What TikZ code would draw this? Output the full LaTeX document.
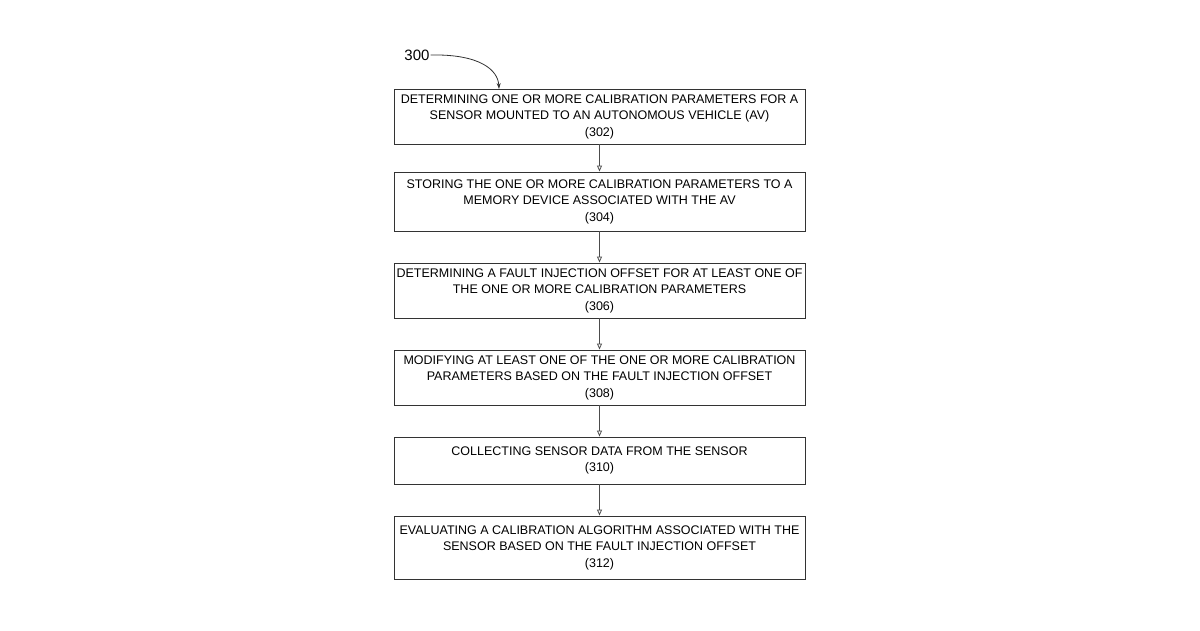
\documentclass[tikz,border=0pt]{standalone}
\usepackage{fontspec}
\setmainfont{Liberation Sans}
\usetikzlibrary{arrows.meta}
\begin{document}
\begin{tikzpicture}[x=1pt,y=-1pt,
  box/.style={draw=black!80,line width=0.9pt,minimum width=411pt,inner sep=0pt,align=center,
    font=\fontsize{12.5}{16.5}\selectfont},
  arr/.style={draw=black!70,line width=0.8pt,-{Triangle[open,length=6pt,width=5pt]}}]
\useasboundingbox (0,0) rectangle (1200,630);
\node[box,minimum height=55pt] (b1) at (599.5,116.5) {DETERMINING ONE OR MORE CALIBRATION PARAMETERS FOR A\\SENSOR MOUNTED TO AN AUTONOMOUS VEHICLE (AV)\\(302)};
\node[box,minimum height=59pt] (b2) at (599.5,201.5) {STORING THE ONE OR MORE CALIBRATION PARAMETERS TO A\\MEMORY DEVICE ASSOCIATED WITH THE AV\\(304)};
\node[box,minimum height=55pt] (b3) at (599.5,290.5) {DETERMINING A FAULT INJECTION OFFSET FOR AT LEAST ONE OF\\THE ONE OR MORE CALIBRATION PARAMETERS\\(306)};
\node[box,minimum height=55pt] (b4) at (599.5,377.5) {MODIFYING AT LEAST ONE OF THE ONE OR MORE CALIBRATION\\PARAMETERS BASED ON THE FAULT INJECTION OFFSET\\(308)};
\node[box,minimum height=47pt] (b5) at (599.5,460.5) {COLLECTING SENSOR DATA FROM THE SENSOR\\(310)};
\node[box,minimum height=63pt] (b6) at (599.5,547.5) {EVALUATING A CALIBRATION ALGORITHM ASSOCIATED WITH THE\\SENSOR BASED ON THE FAULT INJECTION OFFSET\\(312)};
\foreach \a/\b in {b1/b2,b2/b3,b3/b4,b4/b5,b5/b6}
  \draw[arr] (\a.south) -- (\b.north);
\node[font=\fontsize{15}{18}\selectfont,inner sep=1pt] (l) at (417,55) {300};
\coordinate (t) at (499,89);
\draw[draw=black!80,line width=0.8pt,-{Stealth[length=6pt,width=4pt]}] (l.east) .. controls (480,54) and (498,70) .. (t);
\end{tikzpicture}
\end{document}
